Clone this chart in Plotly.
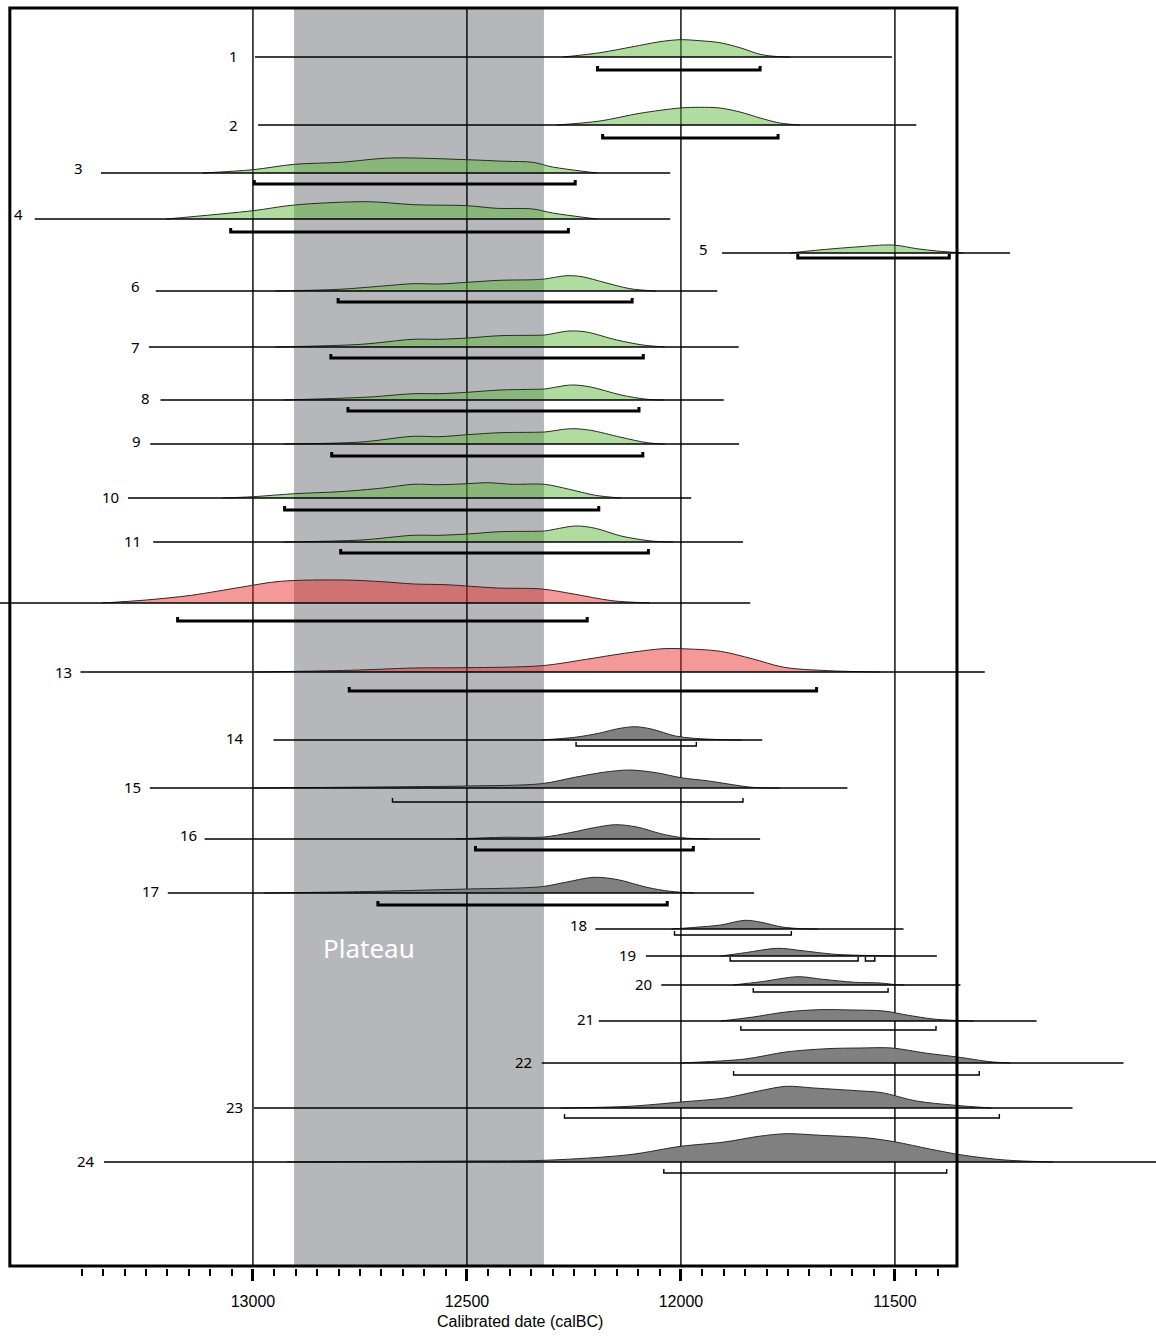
import plotly.graph_objects as go

# ---------------- data (calBC) ----------------
labels = ["1", "2", "3", "4", "5", "6", "7", "8", "9", "10", "11", "", "13",
          "14", "15", "16", "17", "18", "19", "20", "21", "22", "23", "24"]
groups = ["green"] * 11 + ["red"] * 2 + ["gray"] * 11

line_start = [12995, 12988, 13355, 13510, 11904, 13227, 13243, 13216, 13240, 13292, 13233, 13700,
              13403, 12952, 13241, 13113, 13199, 12200, 12082, 12046, 12192, 12325, 12998, 13348]
line_end = [11507, 11450, 12025, 12025, 11231, 11915, 11865, 11900, 11864, 11976, 11855, 11838,
            11290, 11810, 11611, 11815, 11829, 11480, 11402, 11347, 11169, 10966, 11085, 10800]

range_start = [12195, 12183, 12997, 13052, 11727, 12801, 12818, 12778, 12816, 12926, 12795, 13176,
               12775, 12245, 12674, 12480, 12708, 12015, 11885, 11831, 11860, 11877, 12272, 12040]
range_end = [11815, 11773, 12247, 12263, 11373, 12114, 12088, 12098, 12089, 12192, 12076, 12219,
             11683, 11964, 11855, 11971, 12032, 11742, 11586, 11516, 11404, 11303, 11256, 11379]
# extra 95% range segment (row label, start, end)
extra_ranges = [("19", 11569, 11547)]

density_years = [
    [12275, 12189, 12112, 12049, 12002, 11956, 11909, 11862, 11815, 11776, 11745],
    [12290, 12189, 12096, 12002, 11956, 11909, 11862, 11815, 11769, 11722],
    [13117, 13000, 12903, 12796, 12678, 12500, 12410, 12346, 12300, 12196],
    [13202, 13000, 12903, 12731, 12624, 12500, 12431, 12346, 12300, 12196],
    [11745, 11685, 11592, 11505, 11449, 11402, 11340],
    [12949, 12798, 12696, 12626, 12565, 12499, 12423, 12342, 12319, 12266, 12231, 12180, 12119, 12059],
    [12949, 12747, 12626, 12565, 12499, 12423, 12342, 12319, 12261, 12221, 12150, 12089, 12038],
    [12929, 12727, 12626, 12565, 12499, 12423, 12342, 12319, 12256, 12211, 12140, 12079, 12038],
    [12929, 12747, 12626, 12565, 12499, 12423, 12342, 12319, 12256, 12211, 12140, 12079, 12038],
    [13071, 13000, 12902, 12798, 12696, 12626, 12565, 12499, 12453, 12393, 12319, 12261, 12200, 12140],
    [12929, 12747, 12626, 12565, 12499, 12423, 12342, 12319, 12246, 12200, 12140, 12069, 12018],
    [13353, 13249, 13144, 13025, 12936, 12787, 12698, 12623, 12549, 12429, 12325, 12251, 12161, 12072],
    [12996, 12772, 12623, 12500, 12325, 12221, 12132, 12042, 12000, 11908, 11834, 11759, 11655, 11536],
    [12326, 12248, 12192, 12147, 12108, 12069, 12013, 11969, 11902, 11857],
    [12997, 12639, 12500, 12326, 12248, 12181, 12120, 12058, 12000, 11935, 11879, 11835, 11768],
    [12527, 12416, 12320, 12259, 12203, 12153, 12103, 12047, 11997, 11935],
    [12974, 12751, 12617, 12500, 12326, 12270, 12203, 12147, 12080, 12025, 11969],
    [12022, 11965, 11907, 11850, 11812, 11764, 11717, 11679],
    [11907, 11850, 11774, 11717, 11640, 11564, 11507],
    [11879, 11812, 11726, 11669, 11593, 11535, 11497, 11478],
    [11907, 11831, 11755, 11678, 11602, 11526, 11469, 11411, 11364, 11316],
    [12003, 11850, 11755, 11659, 11583, 11507, 11430, 11354, 11278, 11230],
    [12281, 12121, 12000, 11898, 11818, 11754, 11690, 11578, 11530, 11450, 11359, 11275],
    [12920, 12500, 12319, 12121, 12000, 11898, 11818, 11754, 11674, 11562, 11498, 11419, 11339, 11243, 11131],
]
density_values = [
    [0, 4.3, 10.3, 15.3, 17.3, 16.3, 14.3, 9.3, 2.7, 0.5, 0],
    [0, 4, 11.7, 17, 17.7, 17, 13, 7, 2, 0],
    [0, 3.3, 8.7, 10.7, 15, 13.3, 11.7, 10.7, 6, 0],
    [0, 8.3, 14, 17.3, 14.3, 13.3, 10.7, 10, 6, 0],
    [0, 2.7, 6, 8, 4.3, 2, 0],
    [0, 1.7, 5, 7.3, 7, 8.7, 10.7, 11.3, 12, 15.3, 14.3, 8.7, 2.3, 0],
    [0, 2.7, 7.7, 7.7, 9, 11.3, 11.7, 12, 16, 15, 7, 2, 0],
    [0, 3, 6.3, 6.3, 7.7, 10, 10.7, 11, 15, 13, 5, 0.7, 0],
    [0, 2, 7.7, 7.3, 9.3, 11.3, 11.7, 12, 15.3, 13.7, 6.7, 1.3, 0],
    [0, 1.3, 4.3, 6.3, 10, 13.7, 13.3, 14.3, 15.3, 13.7, 13.7, 8.7, 2.7, 0],
    [0, 2, 6.7, 6.7, 8, 10.3, 10.7, 11, 16, 13.7, 6, 1, 0],
    [0, 3, 7.7, 16, 21.7, 23, 21.3, 19, 18.3, 15, 14, 9, 2.3, 0],
    [0, 1.7, 4, 4.3, 6.3, 12.7, 18.7, 23.3, 23.3, 20.7, 13.3, 4.7, 1.3, 0],
    [0, 2.7, 6.7, 11.3, 13.3, 11, 4, 1.7, 0.3, 0],
    [0, 1.3, 2, 4.3, 10.7, 15.7, 18, 15.3, 10.3, 7, 3.3, 0.7, 0],
    [0, 1.7, 2, 6.3, 11.3, 14.3, 12, 5.3, 1.3, 0],
    [0, 1.3, 2.7, 4, 6.3, 10.7, 15.7, 13.3, 5.7, 1.7, 0],
    [0, 1.7, 4, 8.7, 6.7, 2, 0.3, 0],
    [0, 3.3, 7.7, 5.3, 1.7, 0.5, 0],
    [0, 3.3, 8.3, 5.7, 2.7, 2, 0.3, 0],
    [0, 4, 9, 11.3, 11, 10, 5.7, 2, 0.7, 0],
    [0, 4, 11, 14.3, 15, 15, 10, 6, 1.3, 0],
    [0, 1.7, 6, 10, 17, 21.7, 20, 17, 15.3, 7, 2.7, 0],
    [0, 1, 1.7, 7.3, 15.7, 20, 25.7, 28.3, 26.7, 24, 20, 13, 6.7, 2, 0],
]

plateau_range = [12904, 12320]
major_ticks = [13000, 12500, 12000, 11500]
minor_ticks = [y for y in range(13400, 11399, -50) if y % 500 != 0]
tick_text = ["13000", "12500", "12000", "11500"]

# ---------------- layout (pixels) ----------------
row_y = [57, 125, 173, 219, 253, 291, 347, 400, 444, 498, 542, 603, 672, 740, 788, 839, 893,
         929, 956, 985, 1021, 1063, 1108, 1162]
range_y = [70, 138, 184, 232, 258, 302, 358, 411, 456, 510, 553, 621, 691, 746, 802, 850, 905,
           935, 961, 992, 1030, 1075, 1118, 1173]
thick_range = [True] * 13 + [False, False, True, True] + [False] * 7
label_gap = [15, 18, 16, 10, 12, 14, 7, 9, 7, 7, 10, 0, 6, 27, 7, 6, 7, 6, 8, 7, 3, 8, 9, 7]
label_dy = [-1, 0, -5, -5, -4, -5, 0, -2, -3, -1, -1, 0, 0, -2, -1, -4, -2, -4, -1, -1, -2, -1, -1, -1]

fills = {"green": "rgba(90,182,57,0.48)", "red": "rgba(232,40,40,0.48)", "gray": "rgb(128,128,128)"}

FRAME_TOP, FRAME_BOT = 8, 1266
FRAME_L, FRAME_R = 13568, 11355

fig = go.Figure()

for i in range(len(labels)):
    yb = row_y[i]
    xs = density_years[i]
    ys = [yb - v for v in density_values[i]]
    # baseline under the density
    fig.add_trace(go.Scatter(x=[xs[0], xs[-1]], y=[yb, yb], mode="lines",
                             line=dict(width=0), hoverinfo="skip", showlegend=False))
    fig.add_trace(go.Scatter(x=xs, y=ys, mode="lines", fill="tonexty",
                             fillcolor=fills[groups[i]],
                             line=dict(color="#2a2a2a", width=1, shape="spline", smoothing=0.9),
                             hoverinfo="skip", showlegend=False))
    # full horizontal line
    fig.add_trace(go.Scatter(x=[line_start[i], line_end[i]], y=[yb, yb], mode="lines",
                             line=dict(color="black", width=1.6), hoverinfo="skip", showlegend=False))

# 95% ranges (brackets)
def add_bracket(x0, x1, y, thick):
    h = 4
    fig.add_trace(go.Scatter(x=[x0, x0, x1, x1], y=[y - h, y, y, y - h], mode="lines",
                             line=dict(color="black", width=3 if thick else 1.4),
                             hoverinfo="skip", showlegend=False))

for i in range(len(labels)):
    add_bracket(range_start[i], range_end[i], range_y[i], thick_range[i])
for lab, x0, x1 in extra_ranges:
    j = labels.index(lab)
    add_bracket(x0, x1, range_y[j], thick_range[j])

shapes = [dict(type="rect", xref="x", yref="y", x0=plateau_range[0], x1=plateau_range[1],
               y0=FRAME_TOP, y1=FRAME_BOT, fillcolor="#b6b7bb", line=dict(width=0), layer="below")]
for t in major_ticks:
    shapes.append(dict(type="line", xref="x", yref="y", x0=t, x1=t, y0=FRAME_TOP, y1=FRAME_BOT,
                       line=dict(color="black", width=1.4), layer="below"))
shapes.append(dict(type="rect", xref="x", yref="y", x0=FRAME_L, x1=FRAME_R, y0=FRAME_TOP, y1=FRAME_BOT,
                   line=dict(color="black", width=3), fillcolor="rgba(0,0,0,0)", layer="above"))

annotations = []
for i, lab in enumerate(labels):
    if not lab:
        continue
    annotations.append(dict(x=line_start[i], y=row_y[i], xref="x", yref="y", text=lab,
                            showarrow=False, xanchor="right", yanchor="middle",
                            xshift=-label_gap[i], yshift=-label_dy[i],
                            font=dict(family="Noto Sans", size=15, color="black")))
annotations.append(dict(x=12729, y=948, xref="x", yref="y", text="Plateau", showarrow=False,
                        xanchor="center", yanchor="middle",
                        font=dict(family="Noto Sans", size=26, color="white")))
annotations.append(dict(x=12376, y=0, xref="x", yref="paper", text="Calibrated date (calBC)",
                        showarrow=False, xanchor="center", yanchor="middle", yshift=-53,
                        font=dict(family="Liberation Sans", size=16, color="black")))

fig.update_layout(
    width=1156, height=1336,
    margin=dict(l=0, r=0, t=0, b=68),
    paper_bgcolor="white", plot_bgcolor="white",
    shapes=shapes, annotations=annotations, showlegend=False,
    xaxis=dict(range=[13591, 10890], showgrid=False, zeroline=False, showline=False,
               tickmode="array", tickvals=major_ticks, ticktext=tick_text,
               ticks="outside", ticklen=12, tickwidth=2.5, tickcolor="black",
               ticklabelstandoff=7,
               tickfont=dict(family="Liberation Sans", size=16, color="black"),
               minor=dict(tickmode="array", tickvals=minor_ticks, ticks="outside",
                          ticklen=7, tickwidth=1.5, tickcolor="black", showgrid=False)),
    yaxis=dict(range=[1268, 0], visible=False, showgrid=False, zeroline=False),
)

fig.write_html("out.html", config={"displayModeBar": False},
               post_script="document.body.style.margin='0';")
